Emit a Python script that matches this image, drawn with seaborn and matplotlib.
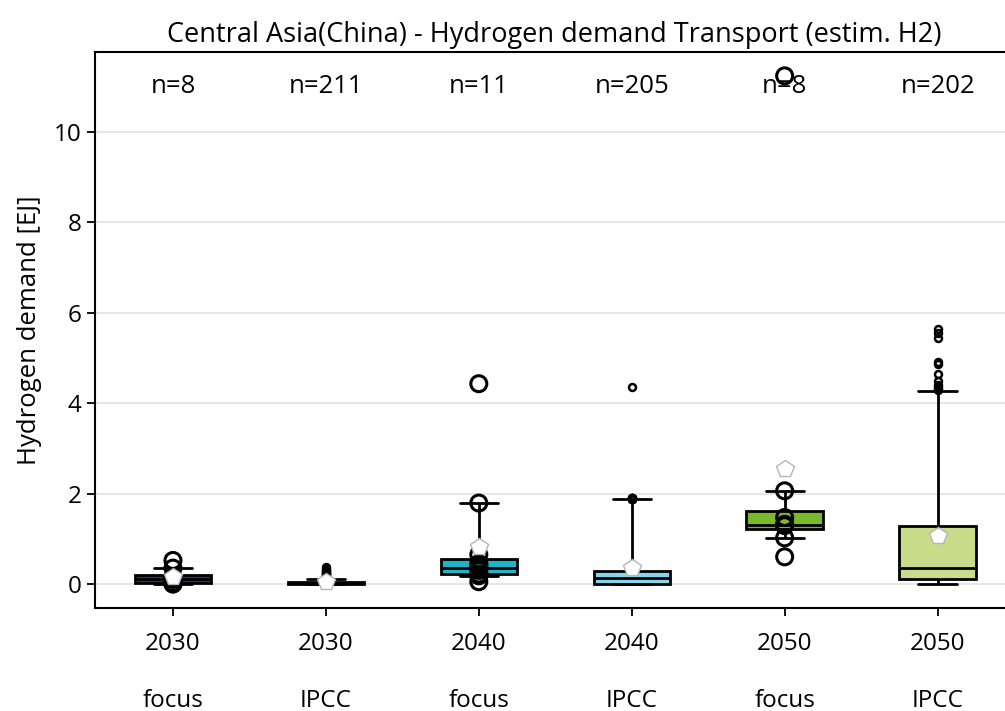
import numpy as np
import pandas as pd
import matplotlib
matplotlib.use("Agg")
import matplotlib.pyplot as plt
import seaborn as sns

# ---------------- data ----------------
labels = ["2030\n\nfocus", "2030\n\nIPCC", "2040\n\nfocus",
          "2040\n\nIPCC", "2050\n\nfocus", "2050\n\nIPCC"]
kinds = ["focus", "IPCC", "focus", "IPCC", "focus", "IPCC"]
n_labels = ["n=8", "n=211", "n=11", "n=205", "n=8", "n=202"]
colors = ["#3b2a8c", "#8d80c6", "#1fb4c8", "#84d7eb", "#7aba2a", "#c8dc8a"]

focus_2030 = [0.0, 0.0, 0.03, 0.10, 0.14, 0.15, 0.35, 0.52]
focus_2040 = [0.05, 0.18, 0.20, 0.22, 0.30, 0.35, 0.40, 0.45, 0.65, 1.79, 4.43]
focus_2050 = [0.60, 1.02, 1.29, 1.30, 1.32, 1.47, 2.06, 11.24]

ipcc_2030_values = [0.0, 0.005, 0.01, 0.02, 0.04, 0.06, 0.08, 0.10,
                    0.15, 0.17, 0.19, 0.21, 0.23, 0.25, 0.27, 0.29, 0.31, 0.34, 0.38]
ipcc_2030_counts = [60, 40, 10, 47, 2, 20, 20, 1,
                    1, 1, 1, 1, 1, 1, 1, 1, 1, 1, 1]

ipcc_2040_values = [0.0, 0.05, 0.13, 0.20, 0.29, 0.5, 0.9, 1.3, 1.6, 1.87, 1.89, 1.90, 4.36]
ipcc_2040_counts = [60, 40, 6, 46, 3, 14, 12, 8, 4, 1, 5, 5, 1]

ipcc_2050_values = [0.0, 0.05, 0.11, 0.20, 0.30, 0.35, 0.60, 0.90, 1.28, 1.8, 2.5, 3.2, 3.8,
                    4.27, 4.30, 4.32, 4.35, 4.40, 4.50, 4.65, 4.87, 4.91, 5.45, 5.55, 5.65]
ipcc_2050_counts = [30, 20, 2, 30, 18, 2, 20, 28, 2, 10, 10, 10, 8,
                    1, 1, 1, 1, 1, 1, 1, 1, 1, 1, 1, 1]

groups = [
    focus_2030,
    np.repeat(ipcc_2030_values, ipcc_2030_counts),
    focus_2040,
    np.repeat(ipcc_2040_values, ipcc_2040_counts),
    focus_2050,
    np.repeat(ipcc_2050_values, ipcc_2050_counts),
]

rows = []
for lab, kind, vals in zip(labels, kinds, groups):
    for v in vals:
        rows.append((lab, kind, float(v)))
df = pd.DataFrame(rows, columns=["label", "kind", "value"])
df_focus = df[df["kind"] == "focus"]
df_ipcc = df[df["kind"] == "IPCC"]

# ---------------- style ----------------
sns.set_style("white")
plt.rcParams["font.family"] = ["Open Sans", "DejaVu Sans"]
plt.rcParams["text.color"] = "black"
plt.rcParams["axes.labelcolor"] = "black"
plt.rcParams["xtick.color"] = "black"
plt.rcParams["ytick.color"] = "black"

fig, ax = plt.subplots(figsize=(10.05, 7.11), dpi=100)
fig.subplots_adjust(left=0.0945, right=1.009, bottom=0.145, top=0.927)

palette = dict(zip(labels, colors))
common = dict(x="label", y="value", hue="label", order=labels, hue_order=labels,
              palette=palette, saturation=1, width=0.5, whis=(5, 95),
              linecolor="black", linewidth=2, legend=False, ax=ax,
              showmeans=True,
              meanprops=dict(marker="p", markerfacecolor="white",
                             markeredgecolor="#b5b5b5", markersize=13,
                             markeredgewidth=1, zorder=10),
              medianprops=dict(color="black", linewidth=2))

sns.boxplot(data=df_focus, showfliers=False, **common)
sns.boxplot(data=df_ipcc, showfliers=True,
            flierprops=dict(marker="o", markersize=5, markerfacecolor="none",
                            markeredgecolor="black", markeredgewidth=1.8),
            **common)

sns.stripplot(data=df_focus, x="label", y="value", order=labels, jitter=False,
              marker="o", size=11.5, facecolor="none", edgecolor="black",
              linewidth=2.2, ax=ax, zorder=6)

for i, t in enumerate(n_labels):
    ax.text(i, 11.0, t, ha="center", va="center", fontsize=18.5)

ax.set_xlim(-0.51, 5.5)
ax.set_ylim(-0.53, 11.77)
ax.set_yticks([0, 2, 4, 6, 8, 10])
ax.yaxis.grid(True, color="#e6e6e6", linewidth=1.5)
ax.xaxis.grid(False)
ax.set_axisbelow(True)

ax.set_xlabel("")
ax.set_ylabel("Hydrogen demand [EJ]", fontsize=18.5, labelpad=9)
ax.set_title("Central Asia(China) - Hydrogen demand Transport (estim. H2)",
             fontsize=19.5, pad=7)

for side in ["left", "bottom", "top", "right"]:
    ax.spines[side].set_visible(True)
    ax.spines[side].set_linewidth(1.5)
    ax.spines[side].set_color("black")
ax.tick_params(axis="both", length=6, width=1.3, labelsize=17.5, color="black",
               left=True, bottom=True)
ax.tick_params(axis="x", pad=11)
for lab in ax.get_xticklabels():
    lab.set_linespacing(1.25)

fig.savefig("out.png", dpi=100)
